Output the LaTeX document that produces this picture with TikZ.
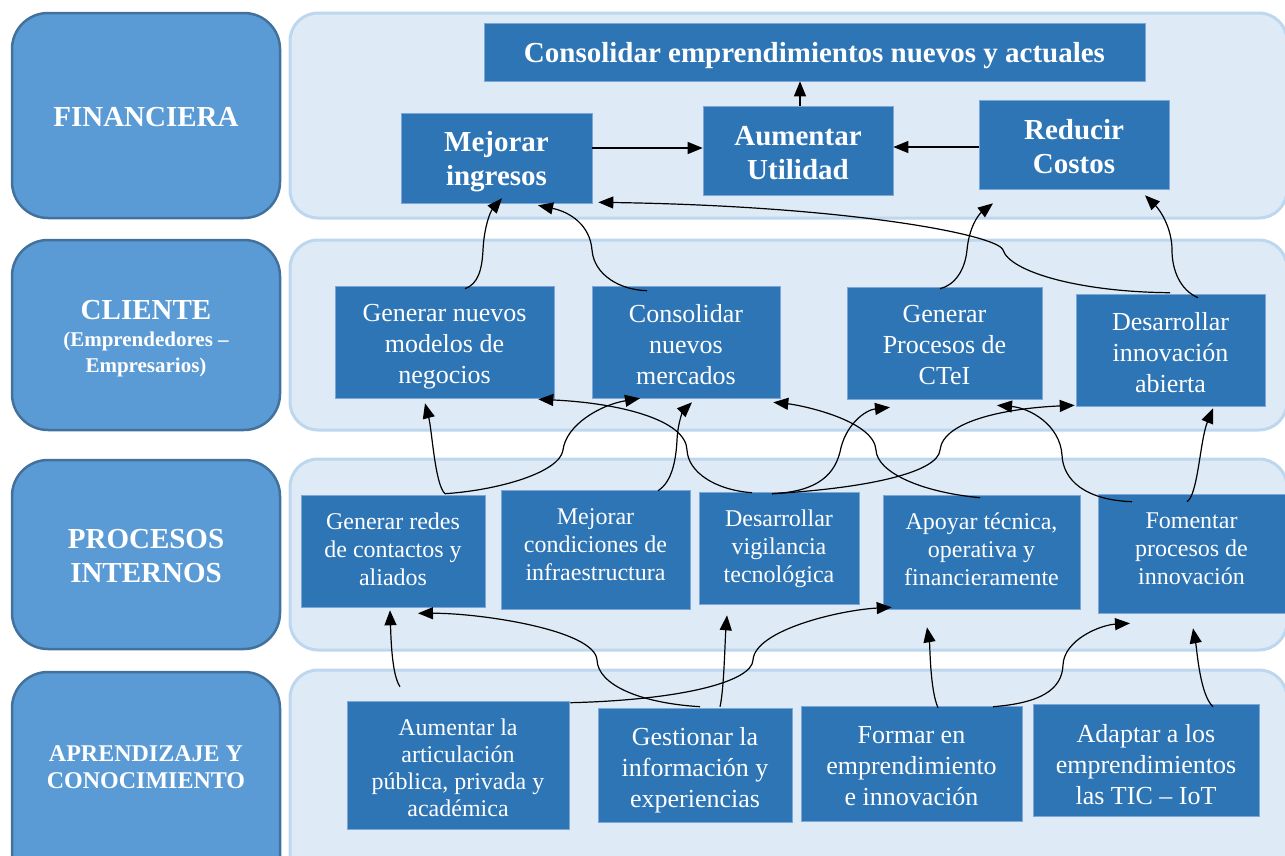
\documentclass[tikz,border=0pt]{standalone}
\usepackage{fontspec}
\setmainfont{Liberation Serif}
\usetikzlibrary{arrows.meta,calc}
\definecolor{bandfill}{HTML}{DEEBF7}
\definecolor{bandline}{HTML}{BDD7EE}
\definecolor{catfill}{HTML}{5B9BD5}
\definecolor{catline}{HTML}{41719C}
\definecolor{boxfill}{HTML}{2E75B6}
\definecolor{boxline}{HTML}{7DA7D9}
\tikzset{
  band/.style={fill=bandfill, draw=bandline, line width=3pt, rounded corners=28pt},
  cat/.style={fill=catfill, draw=catline, line width=2.5pt, rounded corners=36pt},
  catlabel/.style={text=white, font=\bfseries, align=center, inner sep=0pt},
  box/.style={fill=boxfill, draw=boxline, line width=0.6pt, inner sep=0pt},
  tx/.style={text=white, align=center, inner sep=0pt},
  ftx/.style={tx, font=\fontsize{29}{34}\selectfont\bfseries},
  ctx/.style={tx, font=\fontsize{26}{31}\selectfont},
  ptx/.style={tx, font=\fontsize{24}{28}\selectfont},
  atx/.style={tx, font=\fontsize{26}{31}\selectfont},
  arr/.style={-{Triangle[length=15pt,width=12pt]}, line width=1.2pt, black},
}
\begin{document}
\begin{tikzpicture}[x=1pt,y=-1pt]
\useasboundingbox (0,0) rectangle (1285,855);
\clip (0,0) rectangle (1285,855);
% bands
\draw[band] (290,13) rectangle (1287,218);
\draw[band] (290,240) rectangle (1287,430);
\draw[band] (290,459) rectangle (1287,650);
\draw[band] (290,670) rectangle (1287,895);
% category boxes
\draw[cat] (12,13) rectangle (280,218);
\draw[cat] (12,240) rectangle (280,430);
\draw[cat] (12,460) rectangle (280,649);
\draw[cat] (12,672) rectangle (280,895);
\node[catlabel, font=\fontsize{29}{34}\selectfont\bfseries] (lfin) at (146,117) {FINANCIERA};
\node[catlabel, font=\bfseries\fontsize{21}{26.5}\selectfont] (lcli) at (146,339) {{\fontsize{29}{27}\selectfont CLIENTE}\\(Emprendedores –\\Empresarios)};
\node[catlabel, font=\fontsize{29}{34}\selectfont\bfseries] (lpro) at (146,556) {PROCESOS\\INTERNOS};
\node[catlabel, font=\fontsize{24}{27}\selectfont\bfseries] (lapr) at (146,767) {APRENDIZAJE Y\\CONOCIMIENTO};
% financiera
\node[box, minimum width=661pt, minimum height=58pt, label={[ftx, yshift=-4pt]center:{Consolidar emprendimientos nuevos y actuales}}] (cons) at (814.5,52) {};
\node[box, minimum width=191pt, minimum height=90pt, label={[ftx, yshift=-4pt]center:{Mejorar\\ingresos}}] (mej) at (496.5,158) {};
\node[box, minimum width=190pt, minimum height=89pt, label={[ftx, yshift=-3pt]center:{Aumentar\\Utilidad}}] (aum) at (798,150.5) {};
\node[box, minimum width=190pt, minimum height=89pt, label={[ftx, yshift=-2pt]center:{Reducir\\Costos}}] (red) at (1074,144.5) {};
% cliente
\node[box, minimum width=219pt, minimum height=112pt, label={[ctx, yshift=-5pt]center:{Generar nuevos\\modelos de\\negocios}}] (gnm) at (444.5,342) {};
\node[box, minimum width=188pt, minimum height=112pt, label={[ctx, yshift=-3pt]center:{Consolidar\\nuevos\\mercados}}] (cnm) at (686,342) {};
\node[box, minimum width=195pt, minimum height=112pt, label={[ctx, yshift=-2pt]center:{Generar\\Procesos de\\CTeI}}] (gpc) at (944.5,343) {};
\node[box, minimum width=189pt, minimum height=112pt, label={[ctx, yshift=-3pt]center:{Desarrollar\\innovación\\abierta}}] (dia) at (1170.5,350) {};
% procesos internos
\node[box, minimum width=184pt, minimum height=112pt, label={[ptx, yshift=2pt]center:{Generar redes\\de contactos y\\aliados}}] (grc) at (393,551) {};
\node[box, minimum width=189pt, minimum height=119pt, label={[ptx, yshift=5pt]center:{Mejorar\\condiciones de\\infraestructura}}] (mci) at (595.5,549.5) {};
\node[box, minimum width=160pt, minimum height=112pt, label={[ptx, yshift=-1pt]center:{Desarrollar\\vigilancia\\tecnológica}}] (dvt) at (779,548) {};
\node[box, minimum width=197pt, minimum height=114pt, label={[ptx, yshift=3pt]center:{Apoyar técnica,\\operativa y\\financieramente}}] (ato) at (981.5,552) {};
\node[box, minimum width=187pt, minimum height=119pt, label={[ptx, yshift=5pt]center:{Fomentar\\procesos de\\innovación}}] (fpi) at (1191.5,553.5) {};
% aprendizaje
\node[box, minimum width=222pt, minimum height=128pt, label={[tx, font=\fontsize{24}{27}\selectfont, yshift=-3pt]center:{Aumentar la\\articulación\\pública, privada y\\académica}}] (aa) at (458,765) {};
\node[box, minimum width=194pt, minimum height=114pt, label={[atx, yshift=-5pt]center:{Gestionar la\\información y\\experiencias}}] (gie) at (695,765) {};
\node[box, minimum width=221pt, minimum height=115pt, label={[atx, yshift=-3pt]center:{Formar en\\emprendimiento\\e innovación}}] (fei) at (911.5,763.5) {};
\node[box, minimum width=226pt, minimum height=112pt, label={[atx, yshift=-5pt]center:{Adaptar a los\\emprendimientos\\las TIC – IoT}}] (atic) at (1146,760) {};
% connectors financiera
\draw[arr] ($(mej.east)+(0,-10)$) -- ($(aum.west)+(0,-2.5)$);
\draw[arr] ($(red.west)+(0,2.5)$) -- ($(aum.east)+(0,-3.5)$);
\draw[arr] ($(aum.north)+(2,0)$) -- ($(cons.south)+(-14.5,0)$);
% cliente -> financiera
\draw[arr] ($(gnm.north)+(20.5,3)$) .. controls (478,284) and (482,270) .. (483,250) .. controls (484,228) and (490,212) .. ($(mej.south)+(5.5,-5)$);
\draw[arr] ($(cnm.north)+(-39,5)$) .. controls (620,290) and (594,275) .. (592,250) .. controls (590,225) and (570,212) .. ($(mej.south)+(41.5,2)$);
\draw[arr] ($(dia.north)+(-0.5,-1)$) .. controls (1080,292) and (1010,272) .. (1003,250) .. controls (998,235) and (850,206) .. ($(mej.south east)+(6,-1)$);
\draw[arr] ($(gpc.north)+(-4.5,2)$) .. controls (955,285) and (965,270) .. (967,250) .. controls (969,228) and (978,215) .. ($(red.south)+(-81,14)$);
\draw[arr] ($(dia.north)+(27.5,4)$) .. controls (1180,290) and (1172,270) .. (1172,250) .. controls (1172,228) and (1160,210) .. ($(red.south)+(71,6)$);
% procesos -> cliente
\draw[arr] ($(grc.north)+(52,-1)$) .. controls (435,485) and (432,430) .. ($(gnm.south)+(-19.5,5)$);
\draw[arr] ($(grc.north)+(52,-1)$) .. controls (500,490) and (560,472) .. (563,450) .. controls (566,425) and (600,405) .. ($(cnm.south)+(-46,0)$);
\draw[arr] ($(mci.north)+(62.5,1)$) .. controls (672,482) and (676,460) .. (677,440) .. controls (678,420) and (684,410) .. ($(cnm.south)+(6,4)$);
\draw[arr] ($(dvt.north)+(-27,1)$) .. controls (715,490) and (688,472) .. (687,450) .. controls (686,420) and (620,403) .. ($(gnm.south east)+(-16,1)$);
\draw[arr] ($(ato.north)+(-1.5,3)$) .. controls (920,492) and (877,472) .. (876,450) .. controls (874,420) and (800,405) .. ($(cnm.south east)+(-7,4)$);
\draw[arr] ($(dvt.north)+(-7,2)$) .. controls (810,492) and (833,480) .. (840,452) .. controls (845,425) and (865,410) .. ($(gpc.south)+(-54.5,8)$);
\draw[arr] ($(dvt.north)+(-7,2)$) .. controls (870,488) and (938,472) .. (940,450) .. controls (943,420) and (1010,408) .. ($(dia.south west)+(-1,-1)$);
\draw[arr] ($(fpi.north)+(-59.5,8)$) .. controls (1085,500) and (1063,480) .. (1062,455) .. controls (1060,425) and (1030,408) .. ($(gpc.south)+(52.5,6)$);
\draw[arr] ($(fpi.north)+(-4.5,8)$) .. controls (1198,495) and (1200,440) .. ($(dia.south)+(42.5,2)$);
% aprendizaje -> procesos
\draw[arr] ($(aa.north)+(-58,-14)$) .. controls (392,675) and (391,640) .. ($(grc.south)+(-3,3)$);
\draw[arr] ($(gie.north)+(5,-1)$) .. controls (640,703) and (598,685) .. (597,660) .. controls (595,630) and (480,613) .. ($(grc.south)+(25,6)$);
\draw[arr] ($(gie.north)+(25,-1)$) .. controls (724,690) and (725,640) .. ($(dvt.south)+(-52,11)$);
\draw[arr] ($(aa.north east)+(1,2)$) .. controls (680,700) and (752,682) .. (753,660) .. controls (755,630) and (840,610) .. ($(ato.south west)+(9,-2)$);
\draw[arr] ($(fei.north)+(26.5,2)$) .. controls (930,690) and (930,645) .. ($(ato.south)+(-54.5,18)$);
\draw[arr] ($(fei.north)+(81.5,1)$) .. controls (1040,703) and (1062,690) .. (1063,665) .. controls (1064,640) and (1100,625) .. ($(fpi.south)+(-61.5,10)$);
\draw[arr] ($(atic.north)+(67,3)$) .. controls (1200,695) and (1197,650) .. ($(fpi.south)+(1.5,15)$);
\end{tikzpicture}
\end{document}
